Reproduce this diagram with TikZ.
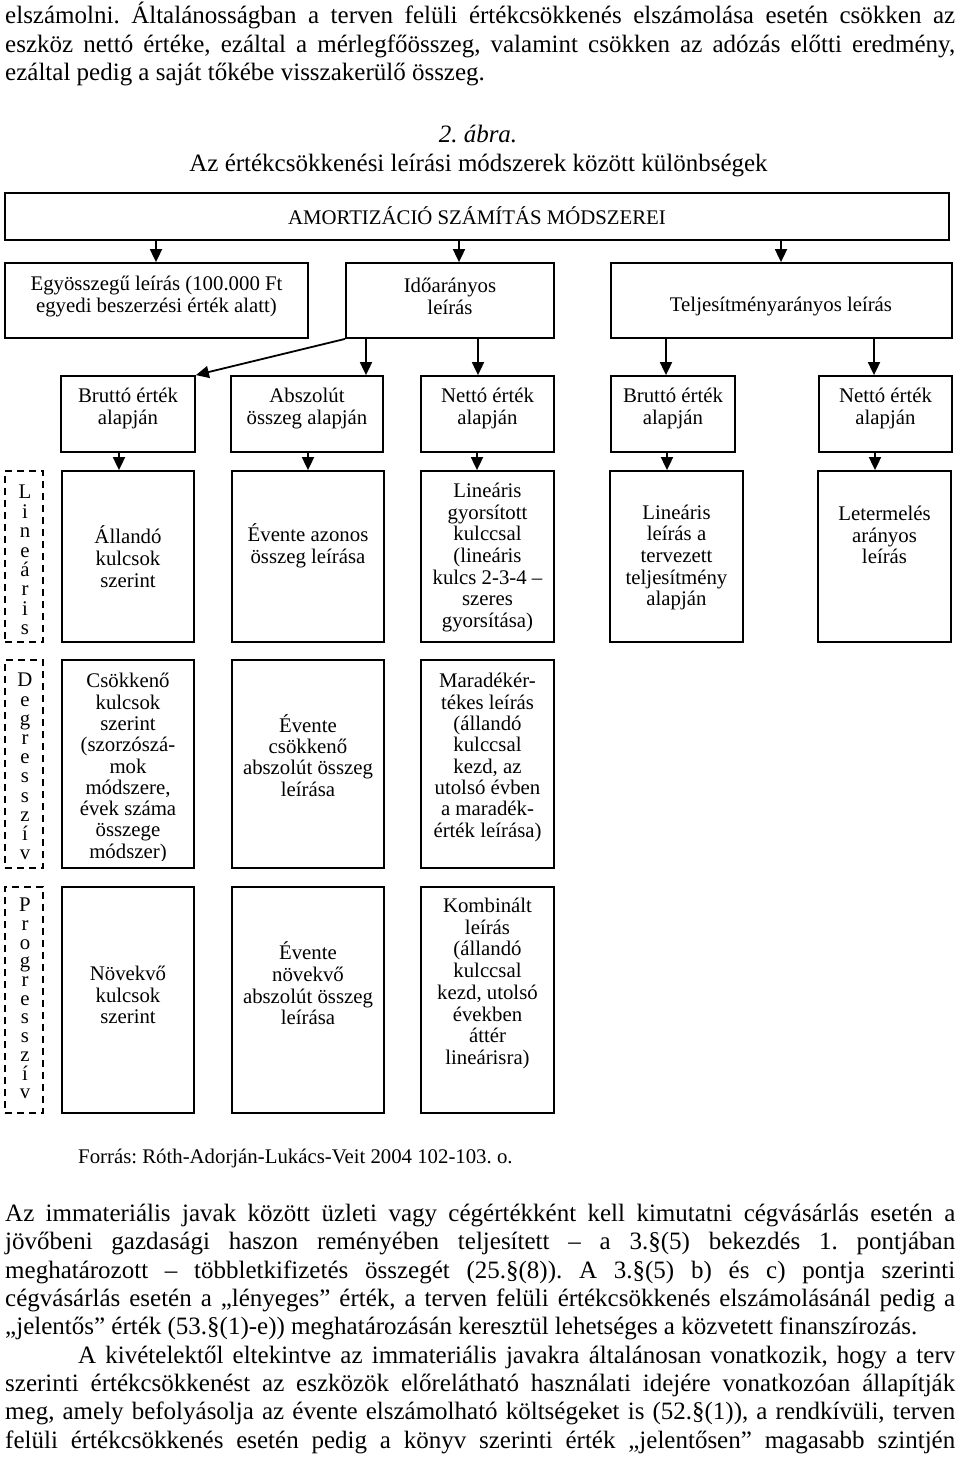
\documentclass[tikz,border=0pt]{standalone}
\usepackage{fontspec}
\setmainfont{Liberation Serif}
\usetikzlibrary{arrows.meta}
\frenchspacing
\newcommand{\diagfont}{\fontsize{20.8}{21.7}\selectfont\lineskiplimit=-100pt\relax}
\newcommand{\diagfontr}{\fontsize{20.8}{21.3}\selectfont\lineskiplimit=-100pt\relax}
\newcommand{\stackfont}[1]{\fontsize{20.8}{#1}\selectfont\lineskiplimit=-100pt\relax}
\newcommand{\bodyfont}{\fontsize{25}{28.6}\selectfont\frenchspacing}
\newcommand{\justline}[2]{{\frenchspacing\spaceskip=0.25em plus 1.5em minus 0.07em\relax\xspaceskip=\spaceskip\makebox[#1][s]{#2}}}
\newcommand{\boxnode}[6][box]{\node[#1, minimum width={#5-#3}, minimum height={#6-#4}] (#2) at ({(#3+#5)/2},{(#4+#6)/2}) {};}
\begin{document}
\begin{tikzpicture}[x=1pt,y=-1pt,
  box/.style={draw, line width=1.8pt, inner sep=0pt},
  dbox/.style={draw, line width=1.8pt, inner sep=0pt, dash pattern=on 7pt off 5pt},
  arr/.style={line width=1.8pt, -{Triangle[length=13pt,width=12pt]}},
  txt/.style={inner sep=0pt, align=center, font=\diagfont},
  txtr/.style={inner sep=0pt, align=center, font=\diagfontr},
  body/.style={inner sep=0pt, anchor=base west, font=\bodyfont},
  vlet/.style={inner sep=0pt, align=center, font=\stackfont{#1}}]
\useasboundingbox (0,0) rectangle (960,1460);
\fill[white] (0,0) rectangle (960,1460);

% top paragraph
\node[body] (p1) at (5,23) {\justline{950pt}{elszámolni. Általánosságban a terven felüli értékcsökkenés elszámolása esetén csökken az}};
\node[body] (p2) at (5,52) {\justline{950pt}{eszköz nettó értéke, ezáltal a mérlegfőösszeg, valamint csökken az adózás előtti eredmény,}};
\node[body] (p3) at (5,80) {ezáltal pedig a saját tőkébe visszakerülő összeg.};

% caption
\node[inner sep=0pt, anchor=base, font=\bodyfont\itshape] (cap1) at (478,142) {2. ábra.};
\node[inner sep=0pt, anchor=base, font=\bodyfont] (cap2) at (478.5,171) {Az értékcsökkenési leírási módszerek között különbségek};

% boxes
\boxnode{top}{5}{193}{949}{240}
\boxnode{egy}{5}{263}{308}{338}
\boxnode{ido}{346}{263}{554}{338}
\boxnode{tel}{611}{263}{952}{338}
\boxnode{b1}{61}{376}{195}{452}
\boxnode{abs}{231}{376}{383}{452}
\boxnode{n1}{421}{376}{554}{452}
\boxnode{b2}{611}{376}{735}{452}
\boxnode{n2}{819}{376}{952}{452}
\boxnode[dbox]{lin}{5}{471}{43}{642}
\boxnode{all}{62}{471}{194}{642}
\boxnode{eaz}{232}{471}{384}{642}
\boxnode{lgy}{421}{471}{554}{642}
\boxnode{ltv}{610}{471}{743}{642}
\boxnode{let}{818}{471}{951}{642}
\boxnode[dbox]{deg}{5}{660}{43}{868}
\boxnode{csk}{62}{660}{194}{868}
\boxnode{ecs}{232}{660}{384}{868}
\boxnode{mar}{421}{660}{554}{868}
\boxnode[dbox]{pro}{5}{887}{43}{1113}
\boxnode{nov}{62}{887}{194}{1113}
\boxnode{env}{232}{887}{384}{1113}
\boxnode{kom}{421}{887}{554}{1113}

% texts in boxes
\node[txt, anchor=base] (ttop) at (477,224) {AMORTIZÁCIÓ SZÁMÍTÁS MÓDSZEREI};
\node[txt] (tegy) at (156.5,296.5) {Egyösszegű leírás (100.000 Ft\\egyedi beszerzési érték alatt)};
\node[txt] (tido) at (450,296.5) {Időarányos\\leírás};
\node[txt, anchor=base] (ttel) at (781,311) {Teljesítményarányos leírás};
\node[txt] (tb1) at (128,408.5) {Bruttó érték\\alapján};
\node[txt] (tabs) at (307,408.5) {Abszolút\\összeg alapján};
\node[txt] (tn1) at (487.5,408.5) {Nettó érték\\alapján};
\node[txt] (tb2) at (673,408.5) {Bruttó érték\\alapján};
\node[txt] (tn2) at (885.5,408.5) {Nettó érték\\alapján};

\node[vlet=19.4] (tlin) at (25,560) {L\\i\\n\\e\\á\\r\\i\\s};
\node[txt] (tall) at (128,556.5) {Állandó\\kulcsok\\szerint};
\node[txt] (teaz) at (308,546) {Évente azonos\\összeg leírása};
\node[txt] (tlgy) at (487.5,557.5) {Lineáris\\gyorsított\\kulccsal\\(lineáris\\kulcs 2-3-4 –\\szeres\\gyorsítása)};
\node[txt] (tltv) at (676.5,557.5) {Lineáris\\leírás a\\tervezett\\teljesítmény\\alapján};
\node[txt] (tlet) at (884.5,535) {Letermelés\\arányos\\leírás};

\node[vlet=19.2] (tdeg) at (25,766.5) {D\\e\\g\\r\\e\\s\\s\\z\\í\\v};
\begin{scope}
\clip (62,660) rectangle (194,860);
\node[txtr] (tcsk) at (128,768) {Csökkenő\\kulcsok\\szerint\\(szorzószá-\\mok\\módszere,\\évek száma\\összege\\módszer)};
\end{scope}
\node[txtr] (tecs) at (308,755.5) {Évente\\csökkenő\\abszolút összeg\\leírása};
\node[txtr] (tmar) at (487.5,757.5) {Maradékér-\\tékes leírás\\(állandó\\kulccsal\\kezd, az\\utolsó évben\\a maradék-\\érték leírása)};

\node[vlet=18.7] (tpro) at (25,998.5) {P\\r\\o\\g\\r\\e\\s\\s\\z\\í\\v};
\node[txt] (tnov) at (128,995) {Növekvő\\kulcsok\\szerint};
\node[txt] (tenv) at (308,983.5) {Évente\\növekvő\\abszolút összeg\\leírása};
\node[txt] (tkom) at (487.5,983.5) {Kombinált\\leírás\\(állandó\\kulccsal\\kezd, utolsó\\években\\áttér\\lineárisra)};

% connectors
\draw[arr] (top.south -| 156,0) -- (egy.north -| 156,0);
\draw[arr] (top.south -| 459,0) -- (ido.north -| 459,0);
\draw[arr] (top.south -| 781,0) -- (tel.north -| 781,0);
\draw[arr] (ido.south west) -- (b1.north east);
\draw[arr] (ido.south -| 366,0) -- (abs.north -| 366,0);
\draw[arr] (ido.south -| 478,0) -- (n1.north -| 478,0);
\draw[arr] (tel.south -| 666,0) -- (b2.north -| 666,0);
\draw[arr] (tel.south -| 874,0) -- (n2.north -| 874,0);
\draw[arr] (b1.south -| 119,0) -- (all.north -| 119,0);
\draw[arr] (abs.south -| 308,0) -- (eaz.north -| 308,0);
\draw[arr] (n1.south -| 477,0) -- (lgy.north -| 477,0);
\draw[arr] (b2.south -| 667,0) -- (ltv.north -| 667,0);
\draw[arr] (n2.south -| 875,0) -- (let.north -| 875,0);

% source
\node[inner sep=0pt, anchor=base west, font=\diagfont\frenchspacing] (src) at (78,1163) {Forrás: Róth-Adorján-Lukács-Veit 2004 102-103. o.};

% bottom paragraph
\node[body] (q1) at (5,1221) {\justline{950pt}{Az immateriális javak között üzleti vagy cégértékként kell kimutatni cégvásárlás esetén a}};
\node[body] (q2) at (5,1249) {\justline{950pt}{jövőbeni gazdasági haszon reményében teljesített – a 3.§(5) bekezdés 1. pontjában}};
\node[body] (q3) at (5,1278) {\justline{950pt}{meghatározott – többletkifizetés összegét (25.§(8)). A 3.§(5) b) és c) pontja szerinti}};
\node[body] (q4) at (5,1306) {\justline{950pt}{cégvásárlás esetén a „lényeges” érték, a terven felüli értékcsökkenés elszámolásánál pedig a}};
\node[body] (q5) at (5,1334) {„jelentős” érték (53.§(1)-e)) meghatározásán keresztül lehetséges a közvetett finanszírozás.};
\node[body] (q6) at (78,1363) {\justline{877pt}{A kivételektől eltekintve az immateriális javakra általánosan vonatkozik, hogy a terv}};
\node[body] (q7) at (5,1391) {\justline{950pt}{szerinti értékcsökkenést az eszközök előrelátható használati idejére vonatkozóan állapítják}};
\node[body] (q8) at (5,1419) {\justline{950pt}{meg, amely befolyásolja az évente elszámolható költségeket is (52.§(1)), a rendkívüli, terven}};
\node[body] (q9) at (5,1448) {\justline{950pt}{felüli értékcsökkenés esetén pedig a könyv szerinti érték „jelentősen” magasabb szintjén}};
\end{tikzpicture}
\end{document}
